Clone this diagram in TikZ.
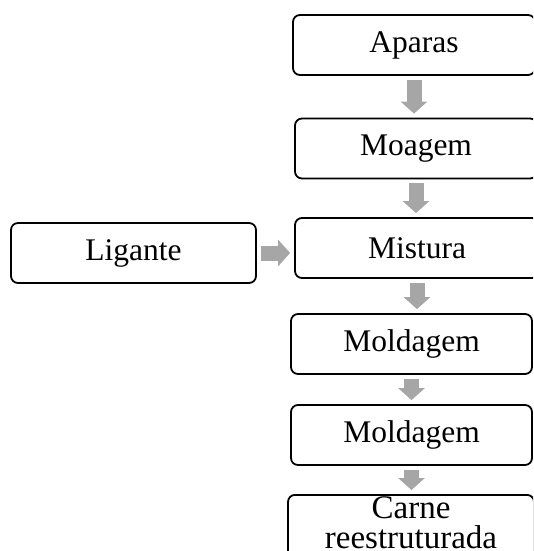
\documentclass[tikz,border=0pt]{standalone}
\usepackage{fontspec}
\setmainfont{Liberation Serif}
\usetikzlibrary{arrows.meta}
\definecolor{setacinza}{RGB}{166,166,166}
\tikzset{
  etapa/.style = {draw = black, line width = 1.8pt, rounded corners = 7pt, inner sep = 0pt,
    minimum height = 60pt, align = center, font = \fontsize{31.5}{30}\selectfont},
  seta/.style = {draw = setacinza, line width = 15pt, -{Triangle[length = 12pt, width = 26pt]},
    shorten < = 4pt, shorten > = 4pt}
}

\begin{document}
\begin{tikzpicture}[x = 1pt, y = -1pt]

\useasboundingbox (0, 0) rectangle (533, 551);
\clip (0, 0) rectangle (533, 551);

\node[etapa, minimum width = 242pt] (aparas) at (414, 45) {Aparas};
\node[etapa, minimum width = 242pt] (moagem) at (416, 148.5) {Moagem};
\node[etapa, minimum width = 244pt] (mistura) at (417, 248) {Mistura};
\node[etapa, minimum width = 245pt] (ligante) at (133.5, 253) {Ligante};
\node[etapa, minimum width = 241pt] (molda) at (411.5, 344) {Moldagem};
\node[etapa, minimum width = 241pt] (moldb) at (411.5, 435) {Moldagem};
\node[etapa, minimum width = 246pt, anchor = north, inner ysep = 2pt, font = \fontsize{33}{30}\selectfont] (carne) at (411, 494) {Carne\\reestruturada\strut};

\foreach \a/\b in {aparas/moagem, moagem/mistura, mistura/molda, molda/moldb, moldb/carne}{\path [seta] (\a.south) -- (\a.south |- \b.north);}
\path [seta] (ligante.east) -- (ligante.east -| mistura.west);

\end{tikzpicture}
\end{document}
